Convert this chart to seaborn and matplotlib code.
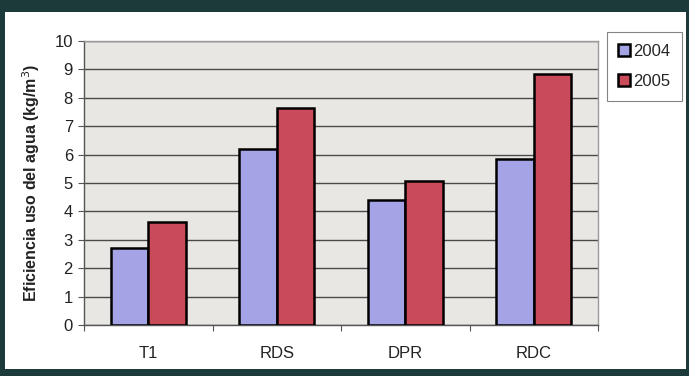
import matplotlib
matplotlib.use("Agg")
import matplotlib.pyplot as plt
import matplotlib.patches as mpatches
import seaborn as sns
import pandas as pd

# Water use efficiency per treatment and season
treatments = ["T1", "RDS", "DPR", "RDC"]
years = ["2004", "2005"]
values_2004 = [2.7, 6.2, 4.4, 5.85]
values_2005 = [3.63, 7.65, 5.08, 8.84]

df = pd.DataFrame({
    "tratamiento": treatments * 2,
    "año": [years[0]] * len(treatments) + [years[1]] * len(treatments),
    "eficiencia": values_2004 + values_2005,
})

sns.set_theme(style="white")
plt.rcParams["font.family"] = ["Liberation Sans", "DejaVu Sans"]

fig = plt.figure(figsize=(6.89, 3.76), dpi=100)
fig.patch.set_facecolor("#1b3a39")

# white chart panel inside the dark frame
panel = mpatches.Rectangle((5 / 689, 7 / 376), 681 / 689, 357 / 376,
                           transform=fig.transFigure, facecolor="white",
                           edgecolor="none", zorder=-10)
fig.patches.append(panel)

ax = fig.add_axes([84 / 689, 51 / 376, 514 / 689, 284 / 376])
ax.set_zorder(1)
ax.set_facecolor("#e9e7e3")

palette = {"2004": "#a3a3e6", "2005": "#c94b59"}
sns.barplot(data=df, x="tratamiento", y="eficiencia", hue="año",
            palette=palette, width=0.58, edgecolor="black", linewidth=1.8,
            saturation=1, ax=ax, zorder=3)

ax.set_ylim(0, 10)
ax.set_xlim(-0.5, 3.5)
ax.set_yticks(range(0, 11))
ax.yaxis.grid(True, color="#4a4a4a", linewidth=1.0, zorder=1)
ax.set_axisbelow(True)

ax.set_xlabel("")
ax.set_ylabel("Eficiencia uso del agua (kg/m$^3$)", fontsize=11.5,
              fontweight="bold", color="#222222", labelpad=9)

ax.tick_params(axis="y", which="major", length=4, width=0.8, color="#555555",
               labelsize=12, pad=4, left=True, labelcolor="#222222")
ax.tick_params(axis="x", which="major", length=0, labelsize=12, pad=15,
               labelcolor="#222222")
ax.set_xticks([-0.5, 0.5, 1.5, 2.5, 3.5], minor=True)
ax.tick_params(axis="x", which="minor", length=4, width=0.8, color="#555555",
               bottom=True)

for side in ["top", "right"]:
    ax.spines[side].set_color("#9a9a9a")
    ax.spines[side].set_linewidth(1.0)
for side in ["left", "bottom"]:
    ax.spines[side].set_color("#555555")
    ax.spines[side].set_linewidth(1.0)

handles, labels = ax.get_legend_handles_labels()
leg = ax.legend(handles, labels, loc="upper left",
                bbox_to_anchor=(1.017, 1.03), frameon=True, fontsize=12,
                handlelength=0.7, handleheight=0.7, handletextpad=0.2,
                borderpad=0.7, labelspacing=0.9, fancybox=False,
                borderaxespad=0)
leg.get_frame().set_edgecolor("#666666")
leg.get_frame().set_linewidth(0.8)
leg.get_frame().set_facecolor("white")

fig.savefig("out.png", dpi=100, facecolor=fig.get_facecolor())
